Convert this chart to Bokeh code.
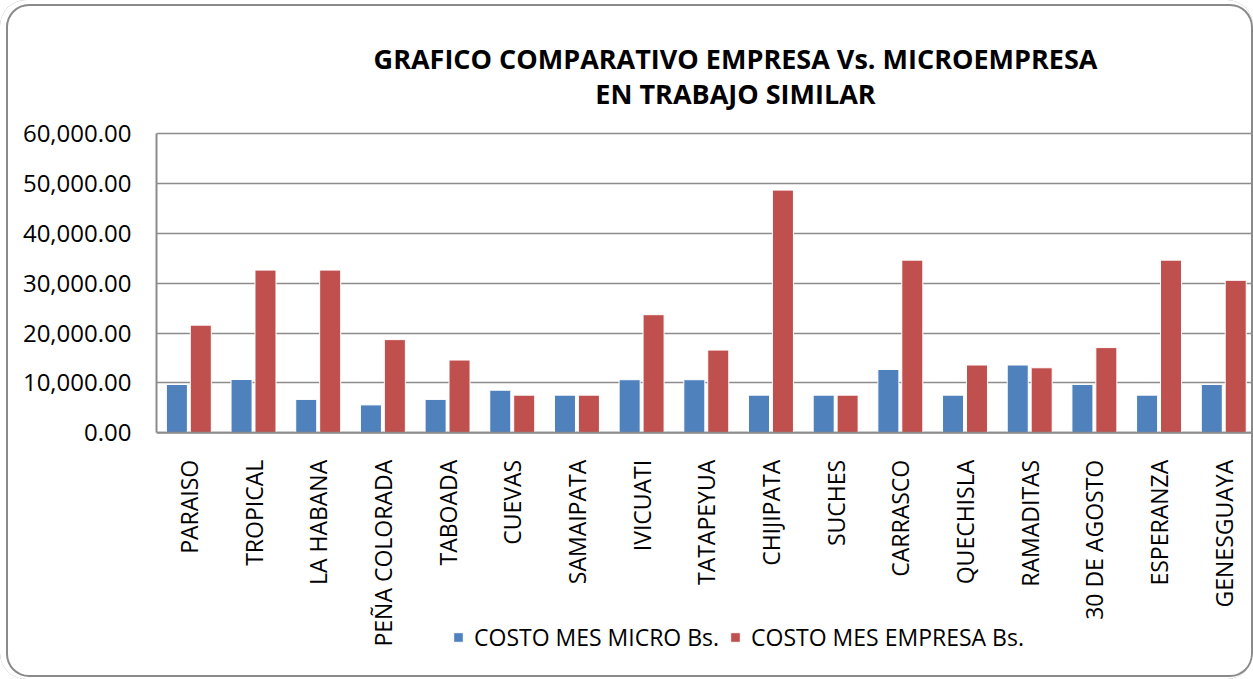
import numpy as np
from bokeh.plotting import figure
from bokeh.models import (ColumnDataSource, Range1d, FixedTicker, NumeralTickFormatter,
                          Label, Legend, LegendItem, Span)
from bokeh.core.properties import value
from bokeh.embed import file_html
from bokeh.resources import INLINE

categories = ["PARAISO", "TROPICAL", "LA HABANA", "PEÑA COLORADA", "TABOADA", "CUEVAS",
              "SAMAIPATA", "IVICUATI", "TATAPEYUA", "CHIJIPATA", "SUCHES", "CARRASCO",
              "QUECHISLA", "RAMADITAS", "30 DE AGOSTO", "ESPERANZA", "GENESGUAYA"]
costo_micro = [9700, 10700, 6700, 5600, 6700, 8550, 7550, 10650, 10650, 7550, 7550,
               12700, 7550, 13600, 9700, 7550, 9700]
costo_empresa = [21600, 32650, 32650, 18700, 14600, 7550, 7550, 23700, 16600, 48700, 7550,
                 34650, 13600, 13050, 17100, 34650, 30600]
series_names = ["COSTO MES MICRO Bs.", "COSTO MES EMPRESA Bs."]
title_lines = ["GRAFICO COMPARATIVO EMPRESA Vs. MICROEMPRESA", "EN TRABAJO SIMILAR"]
y_ticks = [0, 10000, 20000, 30000, 40000, 50000, 60000]
y_max = 60000

BLUE = "#4F81BD"
RED = "#C0504D"
GRID = "#8c8c8c"
FONT = "Open Sans"

W, H = 1253, 679
LEFT = 156                 # space for the y axis
PLOT_TOP, PLOT_BOTTOM = 133.3, 432.3   # pixel rows of y_max and 0
ppu = (PLOT_BOTTOM - PLOT_TOP) / y_max
y_start = -(H - PLOT_BOTTOM) / ppu
y_end = y_max + PLOT_TOP / ppu

n = len(categories)
centers = np.arange(n) + 0.5
src = ColumnDataSource(dict(
    xb=centers - 0.185, xr=centers + 0.185,
    micro=costo_micro, empresa=costo_empresa))
lab_src = ColumnDataSource(dict(x=centers, y=np.zeros(n), cat=categories))

p = figure(width=W, height=H, output_backend="svg", toolbar_location=None,
           x_range=Range1d(0, 16.96), y_range=Range1d(y_start, y_end),
           x_axis_location=None,
           min_border_left=LEFT, min_border_right=0, min_border_top=0,
           min_border_bottom=0, background_fill_alpha=0, border_fill_alpha=0)
p.title = None
p.outline_line_color = None
# rounded chart-area border drawn behind the transparent canvas
p.styles = {"background-color": "white", "border-radius": "26px",
            "box-shadow": "inset 3px 1px 0 3px white, inset 3px 1px 0 5px #8a8a8a"}

rb = p.vbar(x="xb", top="micro", width=0.325, source=src, fill_color=BLUE,
            line_color="white", line_width=1)
rr = p.vbar(x="xr", top="empresa", width=0.325, source=src, fill_color=RED,
            line_color="white", line_width=1)

# category labels below the zero line
p.text(x="x", y="y", text="cat", source=lab_src, angle=np.pi / 2,
       text_align="right", text_baseline="middle", y_offset=27,
       text_font=value(FONT), text_font_size="23px", text_color="black")

# y axis
p.yaxis.ticker = FixedTicker(ticks=y_ticks)
p.yaxis.bounds = (0, y_max)
p.yaxis.formatter = NumeralTickFormatter(format="0,0.00")
p.yaxis.major_tick_line_color = None
p.yaxis.major_tick_out = 0
p.yaxis.major_tick_in = 0
p.yaxis.minor_tick_line_color = None
p.yaxis.major_label_standoff = 25
p.yaxis.axis_line_color = GRID
p.yaxis.axis_line_width = 2
p.yaxis.major_label_text_font = FONT
p.yaxis.major_label_text_font_size = "24px"
p.yaxis.major_label_text_color = "black"

p.xgrid.visible = False
p.xgrid.grid_line_color = None
p.ygrid.grid_line_color = GRID
p.ygrid.grid_line_width = 1.5
p.add_layout(Span(location=0, dimension="width", line_color=GRID, line_width=2))

# title (screen units, relative to the frame's bottom-left)
for line, base in zip(title_lines, [57.5, 92.5]):
    p.add_layout(Label(x=735 - LEFT, y=H - base, x_units="screen", y_units="screen",
                       text=line, text_align="center", text_baseline="alphabetic",
                       text_font=FONT, text_font_style="bold", text_font_size="27px",
                       text_color="black"))

legend = Legend(items=[LegendItem(label=series_names[0], renderers=[rb]),
                       LegendItem(label=series_names[1], renderers=[rr])],
                orientation="horizontal", location=(452 - LEFT, 26),
                padding=0, margin=0, spacing=10, label_standoff=10,
                glyph_width=12, glyph_height=12,
                label_text_font=FONT, label_text_font_size="23px",
                label_text_color="black",
                border_line_color=None, background_fill_alpha=0)
p.add_layout(legend, "center")

open("out.html", "w").write(file_html(p, INLINE))
